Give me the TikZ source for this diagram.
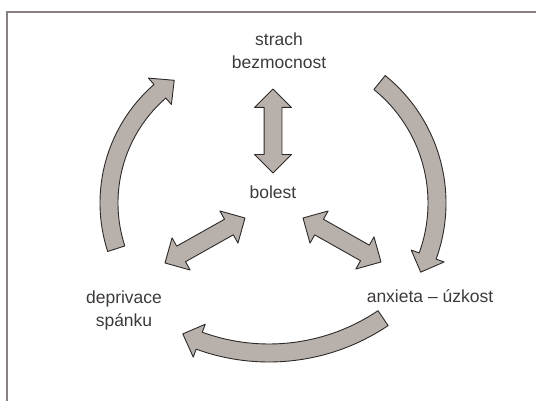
\documentclass[tikz,border=0pt]{standalone}
\usepackage{fontspec}
\setmainfont{Liberation Sans}
\usetikzlibrary{calc,shapes.arrows}

\definecolor{arrowfill}{RGB}{184,176,170}
\definecolor{arrowline}{RGB}{45,42,42}
\definecolor{labeltext}{RGB}{62,58,58}
\definecolor{framecol}{RGB}{135,130,128}

\begin{document}
\begin{tikzpicture}[
        x=1pt, y=1pt,
        mylabel/.style={
        text=labeltext,
        align=center,
        inner sep=0pt,
        font=\fontsize{17.5}{23}\selectfont},
    fatarrow/.style={
        draw=arrowline,
        fill=arrowfill,
        line width=0.9pt,
        line join=round},
    dblarrow/.style={
        fatarrow,
        double arrow,
        double arrow head extend=9.5pt,
        inner xsep=0pt,
        inner ysep=8.5pt,
        minimum width=0pt}
    ]
    \useasboundingbox (0,0) rectangle (536,401);
    \draw[framecol, line width=1.2pt] (7,0) -- (7,389) -- (536,389);

    \node[mylabel] (strach) at (279,349.75) {strach\\bezmocnost};
    \node[mylabel, anchor=base] (bolest) at (273,202) {bolest};
    \node[mylabel] (depriv) at (124,90.9) {deprivace\\spánku};
    \node[mylabel, anchor=base] (anxiety) at (430,98) {anxieta -- úzkost};

    % tips of the straight double arrows
    \coordinate (vt) at (273,312);
    \coordinate (vb) at (273,228);
    \coordinate (lt) at (245,183);
    \coordinate (lb) at (165,138);
    \coordinate (rt) at (303,183);
    \coordinate (rb) at (381,139);

    % centres of the curved arrows
    \coordinate (lc) at (257,198);
    \coordinate (rc) at (282,198);
    \coordinate (bc) at (269,252);

    \foreach \i/\j in {vt/vb, lt/lb, rt/rb}
        \path let \p1=($(\j)-(\i)$), \n1={veclen(\x1,\y1)} in
            (\i) -- node[dblarrow, sloped, minimum height=\n1] {} (\j);

    \foreach \c/\r/\a/\b/\t in {% centre/radius/tail/head base/tip
        lc/148/198/131/124,
        rc/155/51/-20/-26.5,
        bc/204/-56/-110/-115}
        \draw[fatarrow, shift={(\c)}]
            (\a:\r+9) arc[start angle=\a, end angle=\b, radius=\r+9]
            -- (\b:\r+17.5) -- (\t:\r) -- (\b:\r-17.5) -- (\b:\r-9)
            arc[start angle=\b, end angle=\a, radius=\r-9] -- cycle;
\end{tikzpicture}
\end{document}
